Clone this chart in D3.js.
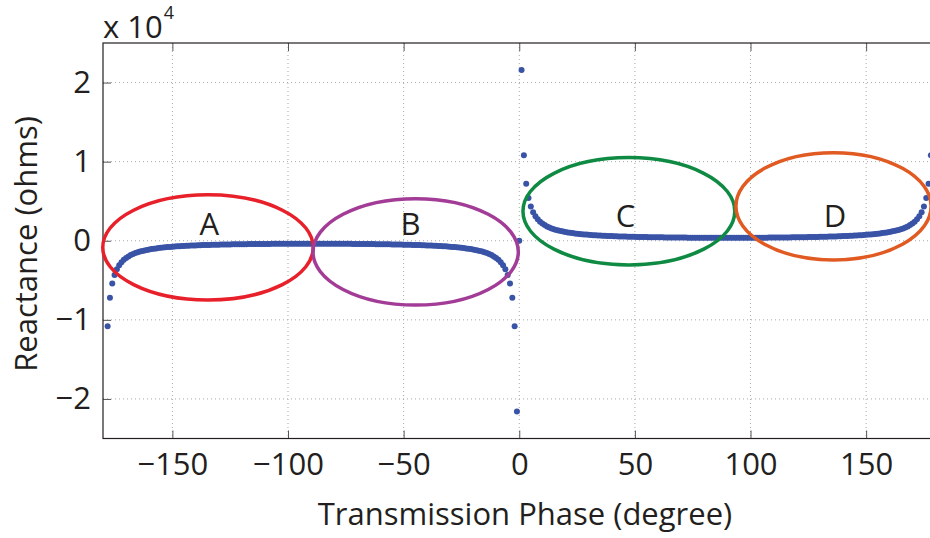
<!DOCTYPE html>
<html>
<head>
<meta charset="utf-8">
<script src="https://cdn.jsdelivr.net/npm/d3@7"></script>
<style>
  html, body { margin: 0; padding: 0; background: #fff; }
  svg { display: block; }
  text { font-family: "Open Sans", "Noto Sans", sans-serif; fill: #231f20; }
</style>
</head>
<body>
<svg id="chart" width="930" height="538"></svg>
<script>
// ---- data ----
const phaseStart = -178, phaseEnd = 178; // degrees, 1-degree sampling
const phases = d3.range(phaseStart, phaseEnd + 1, 1);
const reactance = [
  -10803,-7204,-5405,-4326,-3607,-3093,-2709,-2410,-2171,-1976,
  -1813,-1676,-1558,-1457,-1368,-1289,-1220,-1158,-1102,-1052,
  -1006,-965,-927,-892,-860,-830,-803,-778,-754,-732,
  -711,-692,-674,-657,-641,-626,-612,-599,-587,-575,
  -563,-553,-543,-533,-524,-515,-507,-500,-492,-485,
  -478,-472,-466,-460,-455,-450,-445,-440,-435,-431,
  -427,-423,-419,-416,-413,-410,-407,-404,-401,-399,
  -396,-394,-392,-390,-389,-387,-385,-384,-383,-382,
  -381,-380,-379,-378,-378,-378,-377,-377,-377,
  -377,-377,-378,-378,-378,-379,-380,-381,-382,-383,
  -384,-385,-387,-389,-390,-392,-394,-396,-399,-401,
  -404,-407,-410,-413,-416,-419,-423,-427,-431,-435,
  -440,-445,-450,-455,-460,-466,-472,-478,-485,-492,
  -500,-507,-515,-524,-533,-543,-553,-563,-575,-587,
  -599,-612,-626,-641,-657,-674,-692,-711,-732,-754,
  -778,-803,-830,-860,-892,-927,-965,-1006,-1052,-1102,
  -1158,-1220,-1289,-1368,-1457,-1558,-1676,-1813,-1976,-2171,
  -2410,-2709,-3093,-3607,-4326,-5405,-7204,-10803,-21602,
  0,
  21602,10803,7204,5405,4326,3607,3093,2709,2410,2171,
  1976,1813,1676,1558,1457,1368,1289,1220,1158,1102,
  1052,1006,965,927,892,860,830,803,778,754,
  732,711,692,674,657,641,626,612,599,587,
  575,563,553,543,533,524,515,507,500,492,
  485,478,472,466,460,455,450,445,440,435,
  431,427,423,419,416,413,410,407,404,401,
  399,396,394,392,390,389,387,385,384,383,
  382,381,380,379,378,378,378,377,377,
  377,377,377,378,378,378,379,380,381,382,
  383,384,385,387,389,390,392,394,396,399,
  401,404,407,410,413,416,419,423,427,431,
  435,440,445,450,455,460,466,472,478,485,
  492,500,507,515,524,533,543,553,563,575,
  587,599,612,626,641,657,674,692,711,732,
  754,778,803,830,860,892,927,965,1006,1052,
  1102,1158,1220,1289,1368,1457,1558,1676,1813,1976,
  2171,2410,2709,3093,3607,4326,5405,7204,10803
];
const xTicks = [-150, -100, -50, 0, 50, 100, 150];
const yTicks = [-20000, -10000, 0, 10000, 20000];
const yTickLabels = ["\u22122", "\u22121", "0", "1", "2"];
const xTickLabels = ["\u2212150", "\u2212100", "\u221250", "0", "50", "100", "150"];
const xTitle = "Transmission Phase (degree)";
const yTitle = "Reactance (ohms)";

// region annotations (data coordinates)
const regionNames = ["A", "B", "C", "D"];
const regionCx = [-134.6, -44.8, 47.4, 135.9];     // degrees
const regionCy = [-840, -1410, 3730, 4360];         // ohms
const regionRx = [45.5, 44.4, 45.8, 42.2];          // degrees
const regionRy = [6650, 6720, 6780, 6780];          // ohms
const regionLabelX = [-134, -47, 46, 136.5];
const regionLabelY = [750, 750, 1760, 1760];
const regionColors = ["#e8202a", "#a23c97", "#0f8a43", "#e05a22"];

// ---- layout ----
const svg = d3.select("#chart");
const pL = 103, pT = 43, pR = 935.5, pB = 438.5;
const x = d3.scaleLinear().domain([-180, 180]).range([pL, pR]);
const y = d3.scaleLinear().domain([-25000, 25000]).range([pB, pT]);

// grid
const grid = svg.append("g");
grid.selectAll("line.gx").data(xTicks).join("line")
  .attr("x1", d => x(d)).attr("x2", d => x(d))
  .attr("y1", pT).attr("y2", pB)
  .attr("stroke", "#a8a8a8").attr("stroke-width", 1)
  .attr("stroke-dasharray", "1,3");
grid.selectAll("line.gy").data(yTicks).join("line")
  .attr("x1", pL).attr("x2", pR)
  .attr("y1", d => y(d)).attr("y2", d => y(d))
  .attr("stroke", "#a8a8a8").attr("stroke-width", 1)
  .attr("stroke-dasharray", "1,3");

// axes (MATLAB-like inward ticks)
const tickLen = 8;
const xAxisB = d3.axisBottom(x).tickValues(xTicks).tickSize(-tickLen).tickFormat((d, i) => xTickLabels[i]).tickPadding(14);
const xAxisT = d3.axisTop(x).tickValues(xTicks).tickSize(-tickLen).tickFormat("");
const yAxisL = d3.axisLeft(y).tickValues(yTicks).tickSize(-tickLen).tickFormat((d, i) => yTickLabels[i]).tickPadding(12);

function styleAxis(g) {
  g.select(".domain").remove();
  g.selectAll(".tick line").attr("stroke", "#555").attr("stroke-width", 1);
  g.selectAll(".tick text").attr("font-size", 31).attr("fill", "#231f20")
    .style("font-family", "'Open Sans', 'Noto Sans', sans-serif");
}
svg.append("g").attr("transform", `translate(0,${pB})`).call(xAxisB).call(styleAxis);
svg.append("g").attr("transform", `translate(0,${pT})`).call(xAxisT).call(styleAxis);
svg.append("g").attr("transform", `translate(${pL},0)`).call(yAxisL).call(styleAxis);

// box
svg.append("rect").attr("x", pL).attr("y", pT)
  .attr("width", pR - pL).attr("height", pB - pT)
  .attr("fill", "none").attr("stroke", "#231f20").attr("stroke-width", 1.2);

// data points
svg.append("g").selectAll("circle").data(phases.map((p, i) => [p, reactance[i]])).join("circle")
  .attr("cx", d => x(d[0])).attr("cy", d => y(d[1]))
  .attr("r", 3).attr("fill", "#3953a6");

// ellipses
const ann = svg.append("g");
ann.selectAll("ellipse").data(regionNames).join("ellipse")
  .attr("cx", (d, i) => x(regionCx[i]))
  .attr("cy", (d, i) => y(regionCy[i]))
  .attr("rx", (d, i) => x(regionRx[i]) - x(0))
  .attr("ry", (d, i) => y(0) - y(regionRy[i]))
  .attr("fill", "none")
  .attr("stroke", (d, i) => regionColors[i])
  .attr("stroke-width", 3.5);
ann.selectAll("text").data(regionNames).join("text")
  .attr("x", (d, i) => x(regionLabelX[i]))
  .attr("y", (d, i) => y(regionLabelY[i]))
  .attr("text-anchor", "middle").attr("font-size", 31)
  .text(d => d);

// titles
svg.append("text").attr("x", 525).attr("y", 525).attr("text-anchor", "middle")
  .attr("font-size", 31).text(xTitle);
svg.append("text").attr("transform", "translate(37,244) rotate(-90)")
  .attr("text-anchor", "middle").attr("font-size", 31).text(yTitle);

// exponent
const ex = svg.append("text").attr("x", pL).attr("y", 38).attr("font-size", 31);
ex.append("tspan").text("x 10");
ex.append("tspan").attr("dx", 1).attr("dy", -19).attr("font-size", 18).text("4");
</script>
</body>
</html>
